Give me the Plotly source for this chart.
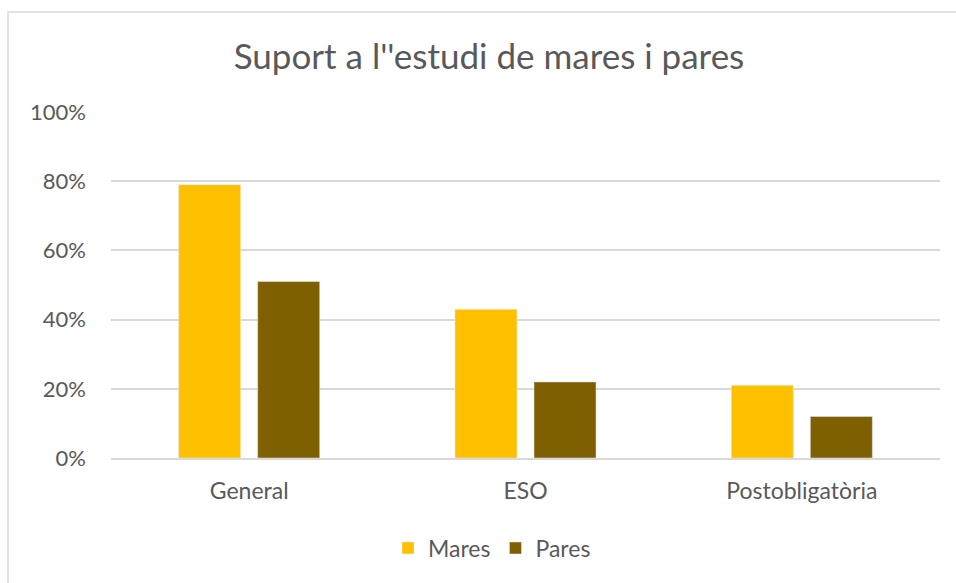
import plotly.graph_objects as go

categories = ["General", "ESO", "Postobligatòria"]
mares = [0.79, 0.43, 0.21]
pares = [0.51, 0.22, 0.12]
tick_vals = [0, 0.2, 0.4, 0.6, 0.8, 1.0]
tick_text = ["0%", "20%", "40%", "60%", "80%", "100%"]

W, H = 956, 583
L, R, T, B = 111, 16, 112, 125
pw, ph = W - L - R, H - T - B

fig = go.Figure()
fig.add_trace(go.Bar(name="Mares", x=categories, y=mares, marker_color="#FFC000"))
fig.add_trace(go.Bar(name="Pares", x=categories, y=pares, marker_color="#7F6000"))

fig.update_layout(
    width=W, height=H,
    margin=dict(l=L, r=R, t=T, b=B),
    paper_bgcolor="white", plot_bgcolor="white",
    barmode="group", bargap=0.428, bargroupgap=0.215,
    font=dict(family="Lato", color="#595959", size=22),
    title=dict(text="Suport a l''estudi de mares i pares", x=489 / W, xanchor="center",
               y=1 - 57 / H, yanchor="middle",
               font=dict(size=35, family="Lato", color="#595959")),
    legend=dict(orientation="h", x=(492 - L) / pw, xanchor="center", y=-(548 - 458) / ph,
                yanchor="middle", font=dict(size=23), itemwidth=30),
    showlegend=True,
)
fig.update_yaxes(range=[0, 1.0], tickvals=tick_vals, ticktext=tick_text, showgrid=True,
                 gridcolor="#D9D9D9", gridwidth=1.5, zeroline=False, showline=False,
                 ticklabelstandoff=24, tickfont=dict(size=22))
fig.update_xaxes(showline=True, linecolor="#D9D9D9", linewidth=1.5, ticks="",
                 tickfont=dict(size=23), ticklabelstandoff=12)
fig.add_shape(type="rect", xref="paper", yref="paper",
              x0=(8 - L) / pw, x1=(W + 20 - L) / pw, y0=-(H + 20 - T - ph) / ph,
              y1=1 + (T - 12) / ph, line=dict(color="#D9D9D9", width=1.5), layer="below")
fig.write_html("out.html", config={"displayModeBar": False},
               post_script="document.body.style.margin='0';document.body.style.overflow='hidden';")
